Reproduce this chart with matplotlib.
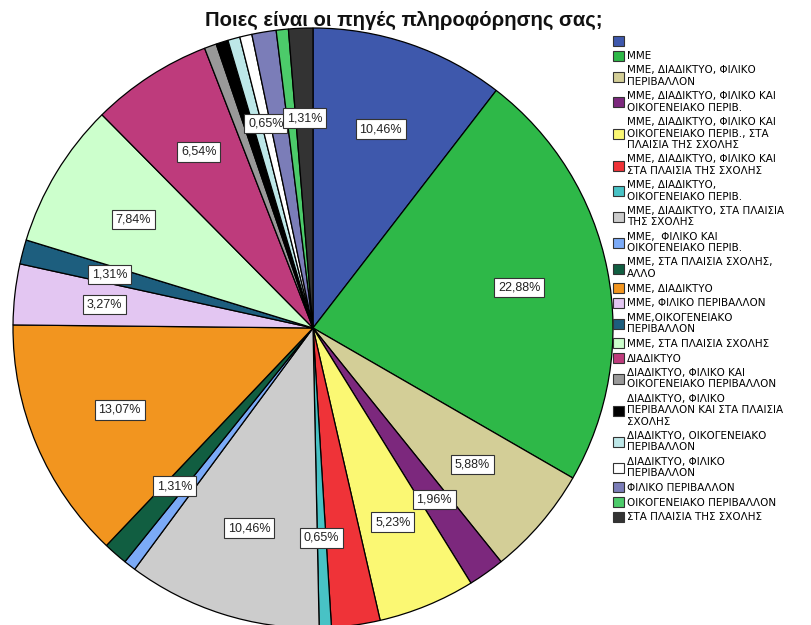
import numpy as np
import matplotlib
matplotlib.use("Agg")
import matplotlib.pyplot as plt

categories = [
    "",
    "ΜΜΕ",
    "ΜΜΕ, ΔΙΑΔΙΚΤΥΟ, ΦΙΛΙΚΟ\nΠΕΡΙΒΑΛΛΟΝ",
    "ΜΜΕ, ΔΙΑΔΙΚΤΥΟ, ΦΙΛΙΚΟ ΚΑΙ\nΟΙΚΟΓΕΝΕΙΑΚΟ ΠΕΡΙΒ.",
    "ΜΜΕ, ΔΙΑΔΙΚΤΥΟ, ΦΙΛΙΚΟ ΚΑΙ\nΟΙΚΟΓΕΝΕΙΑΚΟ ΠΕΡΙΒ., ΣΤΑ\nΠΛΑΙΣΙΑ ΤΗΣ ΣΧΟΛΗΣ",
    "ΜΜΕ, ΔΙΑΔΙΚΤΥΟ, ΦΙΛΙΚΟ ΚΑΙ\nΣΤΑ ΠΛΑΙΣΙΑ ΤΗΣ ΣΧΟΛΗΣ",
    "ΜΜΕ, ΔΙΑΔΙΚΤΥΟ,\nΟΙΚΟΓΕΝΕΙΑΚΟ ΠΕΡΙΒ.",
    "ΜΜΕ, ΔΙΑΔΙΚΤΥΟ, ΣΤΑ ΠΛΑΙΣΙΑ\nΤΗΣ ΣΧΟΛΗΣ",
    "ΜΜΕ,  ΦΙΛΙΚΟ ΚΑΙ\nΟΙΚΟΓΕΝΕΙΑΚΟ ΠΕΡΙΒ.",
    "ΜΜΕ, ΣΤΑ ΠΛΑΙΣΙΑ ΣΧΟΛΗΣ,\nΑΛΛΟ",
    "ΜΜΕ, ΔΙΑΔΙΚΤΥΟ",
    "ΜΜΕ, ΦΙΛΙΚΟ ΠΕΡΙΒΑΛΛΟΝ",
    "ΜΜΕ,ΟΙΚΟΓΕΝΕΙΑΚΟ\nΠΕΡΙΒΑΛΛΟΝ",
    "ΜΜΕ, ΣΤΑ ΠΛΑΙΣΙΑ ΣΧΟΛΗΣ",
    "ΔΙΑΔΙΚΤΥΟ",
    "ΔΙΑΔΙΚΤΥΟ, ΦΙΛΙΚΟ ΚΑΙ\nΟΙΚΟΓΕΝΕΙΑΚΟ ΠΕΡΙΒΑΛΛΟΝ",
    "ΔΙΑΔΙΚΤΥΟ, ΦΙΛΙΚΟ\nΠΕΡΙΒΑΛΛΟΝ ΚΑΙ ΣΤΑ ΠΛΑΙΣΙΑ\nΣΧΟΛΗΣ",
    "ΔΙΑΔΙΚΤΥΟ, ΟΙΚΟΓΕΝΕΙΑΚΟ\nΠΕΡΙΒΑΛΛΟΝ",
    "ΔΙΑΔΙΚΤΥΟ, ΦΙΛΙΚΟ\nΠΕΡΙΒΑΛΛΟΝ",
    "ΦΙΛΙΚΟ ΠΕΡΙΒΑΛΛΟΝ",
    "ΟΙΚΟΓΕΝΕΙΑΚΟ ΠΕΡΙΒΑΛΛΟΝ",
    "ΣΤΑ ΠΛΑΙΣΙΑ ΤΗΣ ΣΧΟΛΗΣ",
]
counts = [16, 35, 9, 3, 8, 4, 1, 16, 1, 2, 20, 5, 2, 12, 10, 1, 1, 1, 1, 2, 1, 2]
shown_label = [True, True, True, True, True, False, True, True, False, True, True,
               True, True, True, True, False, False, False, True, False, False, True]
colors = ["#3E58AC", "#2EB848", "#D3CE97", "#7C287D", "#FBF873", "#EF3338",
          "#48C2C5", "#CCCCCC", "#7BAAF7", "#115E41", "#F2951F", "#E3C6F2",
          "#1D5E7E", "#CCFFCC", "#BE3B7C", "#999999", "#000000", "#BDE7E8",
          "#FFFFFF", "#7B7DB8", "#4CCB6A", "#333333"]
title = "Ποιες είναι οι πηγές πληροφόρησης σας;"

plt.rcParams['font.family'] = ['Liberation Sans', 'DejaVu Sans']

W, H = 811, 625
fig = plt.figure(figsize=(W / 100, H / 100), dpi=100)
cx, cy, R = 313, 328, 300
ax = fig.add_axes([(cx - R) / W, (H - cy - R) / H, 2 * R / W, 2 * R / H])

wedges, _ = ax.pie(counts, colors=colors, startangle=90, counterclock=False,
                   radius=1, wedgeprops=dict(edgecolor='black', linewidth=0.9))
ax.set_xlim(-1, 1)
ax.set_ylim(-1, 1)
ax.set_aspect('equal')
ax.axis('off')

total = sum(counts)
for w, c, show in zip(wedges, counts, shown_label):
    if not show:
        continue
    ang = np.deg2rad((w.theta1 + w.theta2) / 2)
    r = 0.7
    txt = f"{c / total * 100:.2f}%".replace('.', ',')
    ax.text(r * np.cos(ang), r * np.sin(ang), txt, ha='center', va='center',
            fontsize=9, color='#222222',
            bbox=dict(boxstyle='square,pad=0.3', facecolor='white',
                      edgecolor='#333333', linewidth=0.8))

fig.text(404 / W, 1 - 20 / H, title, ha='center', va='center', fontsize=14.6,
         fontweight='bold', color='#111111')

handles = [plt.Rectangle((0, 0), 1, 1, facecolor=col, edgecolor='#333333', linewidth=0.8)
           for col in colors]
fig.legend(handles, categories, loc='upper left', bbox_to_anchor=(613 / W, 1 - 36 / H),
           frameon=False, prop=dict(family='DejaVu Sans', size=7.5),
           handlelength=1.1, handleheight=1.1,
           handletextpad=0.25, labelspacing=0.4, borderaxespad=0, borderpad=0)

fig.savefig("out.png", dpi=100)
